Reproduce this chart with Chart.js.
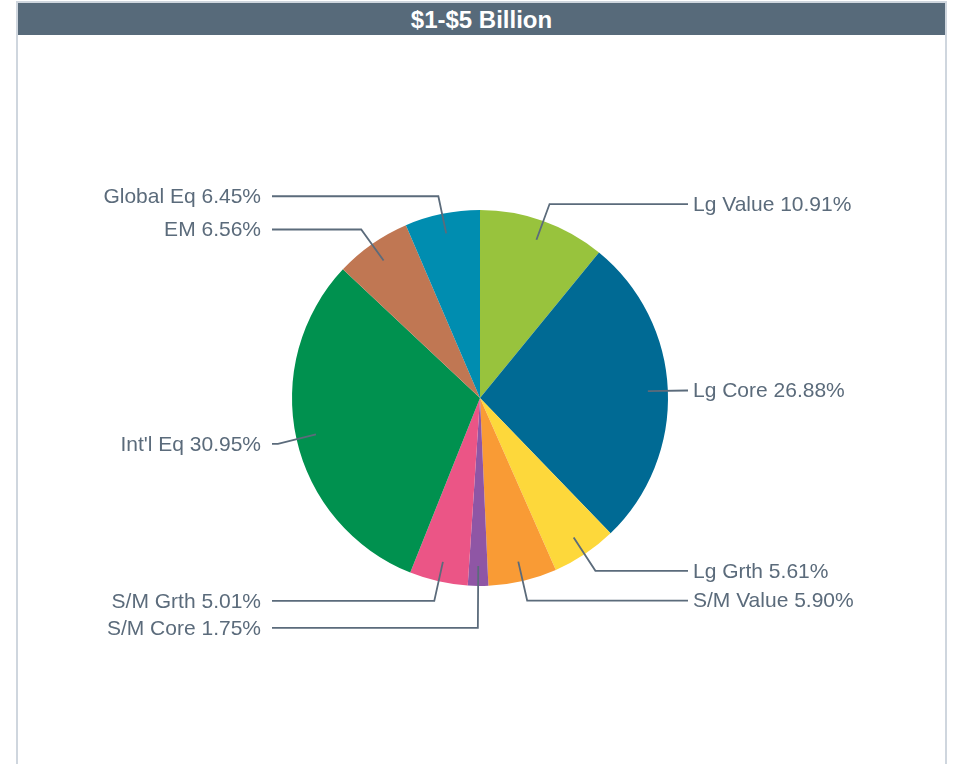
<!DOCTYPE html>
<html>
<head>
<meta charset="utf-8">
<script src="https://cdn.jsdelivr.net/npm/chart.js@4.4.0/dist/chart.umd.min.js"></script>
<style>
  html, body { margin: 0; padding: 0; background: #fff; }
  body { width: 953px; height: 764px; overflow: hidden; position: relative; font-family: "Liberation Sans", Arial, sans-serif; }
  .panel { position: absolute; left: 16px; top: 1px; width: 927px; height: 800px; border: 2px solid #cfd6de; border-bottom: none; }
  .panel-title { position: absolute; left: 0; top: 0; width: 927px; height: 32px; line-height: 33px; background: #576a7a; color: #fff; text-align: center; font-weight: bold; font-size: 24px; }
  #pie { position: absolute; left: 0; top: 0; }
</style>
</head>
<body>
<div class="panel"><div class="panel-title">$1-$5 Billion</div></div>
<canvas id="pie" width="953" height="764"></canvas>
<script>
// slice data, clockwise from 12 o'clock
const categories = ["Lg Value", "Lg Core", "Lg Grth", "S/M Value", "S/M Core", "S/M Grth", "Int'l Eq", "EM", "Global Eq"];
const shares = [10.91, 26.88, 5.61, 5.90, 1.75, 5.01, 30.95, 6.56, 6.45];
const sliceColors = ["#98c33d", "#006a94", "#fdd83b", "#f99b35", "#8f56a5", "#eb5586", "#00914f", "#c07753", "#008db0"];

const labelColor = "#5b6b7b";

// leader lines + labels, highcharts style
const pieLabels = {
  id: "pieLabels",
  afterDatasetsDraw(chart) {
    const ctx = chart.ctx;
    const meta = chart.getDatasetMeta(0);
    const items = meta.data.map((arc, i) => {
      const mid = (arc.startAngle + arc.endAngle) / 2;
      const r = arc.outerRadius;
      return {
        i: i,
        mid: mid,
        cx: arc.x,
        cy: arc.y,
        r: r,
        right: Math.cos(mid) >= 0,
        bx: arc.x + (r + 19) * Math.cos(mid),
        y: arc.y + (r + 19) * Math.sin(mid) + 1,
      };
    });

    // push overlapping labels apart
    [true, false].forEach((side) => {
      const list = items.filter((it) => it.right === side).sort((a, b) => a.y - b.y);
      for (let k = 1; k < list.length; k++) {
        if (list[k].y < list[k - 1].y + 27) list[k].y = list[k - 1].y + 27;
      }
    });

    ctx.save();
    ctx.strokeStyle = labelColor;
    ctx.lineWidth = 1.8;
    ctx.fillStyle = labelColor;
    ctx.font = '21px "Liberation Sans", Arial, sans-serif';
    ctx.textBaseline = "middle";
    items.forEach((it) => {
      const tx = it.cx + (it.r - 20) * Math.cos(it.mid);
      const ty = it.cy + (it.r - 20) * Math.sin(it.mid);
      const endX = it.right ? it.cx + it.r + 20 : it.cx - it.r - 20;
      ctx.beginPath();
      ctx.moveTo(tx, ty);
      ctx.lineTo(it.bx, it.y);
      ctx.lineTo(endX, it.y);
      ctx.stroke();

      const text = categories[it.i] + " " + shares[it.i].toFixed(2) + "%";
      if (it.right) {
        ctx.textAlign = "left";
        ctx.fillText(text, endX + 5, it.y + 1);
      } else {
        ctx.textAlign = "right";
        ctx.fillText(text, endX - 11, it.y + 1);
      }
    });
    ctx.restore();
  },
};

const pieCtx = document.getElementById("pie").getContext("2d");
new Chart(pieCtx, {
  type: "pie",
  data: {
    labels: categories,
    datasets: [
      {
        data: shares,
        backgroundColor: sliceColors,
        borderWidth: 0,
      },
    ],
  },
  options: {
    responsive: false,
    animation: false,
    layout: { padding: { left: 292, right: 285, top: 210, bottom: 178 } },
    plugins: {
      legend: { display: false },
      tooltip: { enabled: false },
      title: { display: false },
    },
  },
  plugins: [pieLabels],
});
</script>
</body>
</html>
